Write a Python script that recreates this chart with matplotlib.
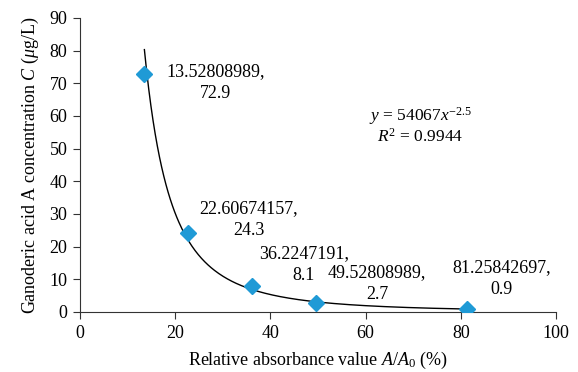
import numpy as np
import matplotlib
matplotlib.use("Agg")
import matplotlib.pyplot as plt

plt.rcParams['font.family'] = ['Liberation Serif', 'DejaVu Serif']
plt.rcParams['mathtext.fontset'] = 'custom'
plt.rcParams['mathtext.rm'] = 'Liberation Serif'
plt.rcParams['mathtext.it'] = 'Liberation Serif:italic'
plt.rcParams['mathtext.bf'] = 'Liberation Serif:bold'

# Data
x_vals = [13.52808989, 22.60674157, 36.2247191, 49.52808989, 81.25842697]
y_vals = [72.9, 24.3, 8.1, 2.7, 0.9]
x_texts = ["13.52808989,", "22.60674157,", "36.2247191,", "49.52808989,", "81.25842697,"]
y_texts = ["72.9", "24.3", "8.1", "2.7", "0.9"]
label_pos = [(28.4, 70.2), (35.5, 28.2), (47.0, 14.6), (62.4, 8.7), (88.6, 10.3)]
fit_coef = 54067
fit_exp = -2.5
x_ticks = [0, 20, 40, 60, 80, 100]
y_ticks = [0, 10, 20, 30, 40, 50, 60, 70, 80, 90]

fig = plt.figure(figsize=(5.78, 3.72), dpi=100)
ax = fig.add_axes([80/578, 1-312/372, 476/578, 294/372])

xf = np.linspace(min(x_vals), max(x_vals), 300)
ax.plot(xf, fit_coef * xf ** fit_exp, color='black', lw=1.0, zorder=2)
ax.plot(x_vals, y_vals, linestyle='none', marker='D', markersize=8.5,
        color='#1F9AD6', zorder=3)

for (lx, ly), t1, t2 in zip(label_pos, x_texts, y_texts):
    ax.annotate(t1, (lx, ly), xytext=(0, 8), textcoords='offset points',
                ha='center', va='center', fontsize=13)
    ax.annotate(t2, (lx, ly), xytext=(0, -8), textcoords='offset points',
                ha='center', va='center', fontsize=13)

ax.text(71.5, 57.0, "$y$ = 54067$x^{-2.5}$\n$R^2$ = 0.9944", ha='center', va='center',
        fontsize=12.5, linespacing=1.05)

ax.set_xlim(0, 100)
ax.set_ylim(0, 90)
ax.set_xticks(x_ticks)
ax.set_yticks(y_ticks)
ax.tick_params(labelsize=13, direction='out', length=5, width=0.8, color='#333333', pad=4)
for s in ['top', 'right']:
    ax.spines[s].set_visible(False)
for s in ['left', 'bottom']:
    ax.spines[s].set_color('#333333')
    ax.spines[s].set_linewidth(0.8)

ax.set_xlabel("Relative absorbance value $A/A_0$ (%)", fontsize=13, labelpad=6)
ax.set_ylabel("Ganoderic acid A concentration $C$ ($\\mu$g/L)", fontsize=13, labelpad=6)

fig.savefig("out.png", dpi=100)
